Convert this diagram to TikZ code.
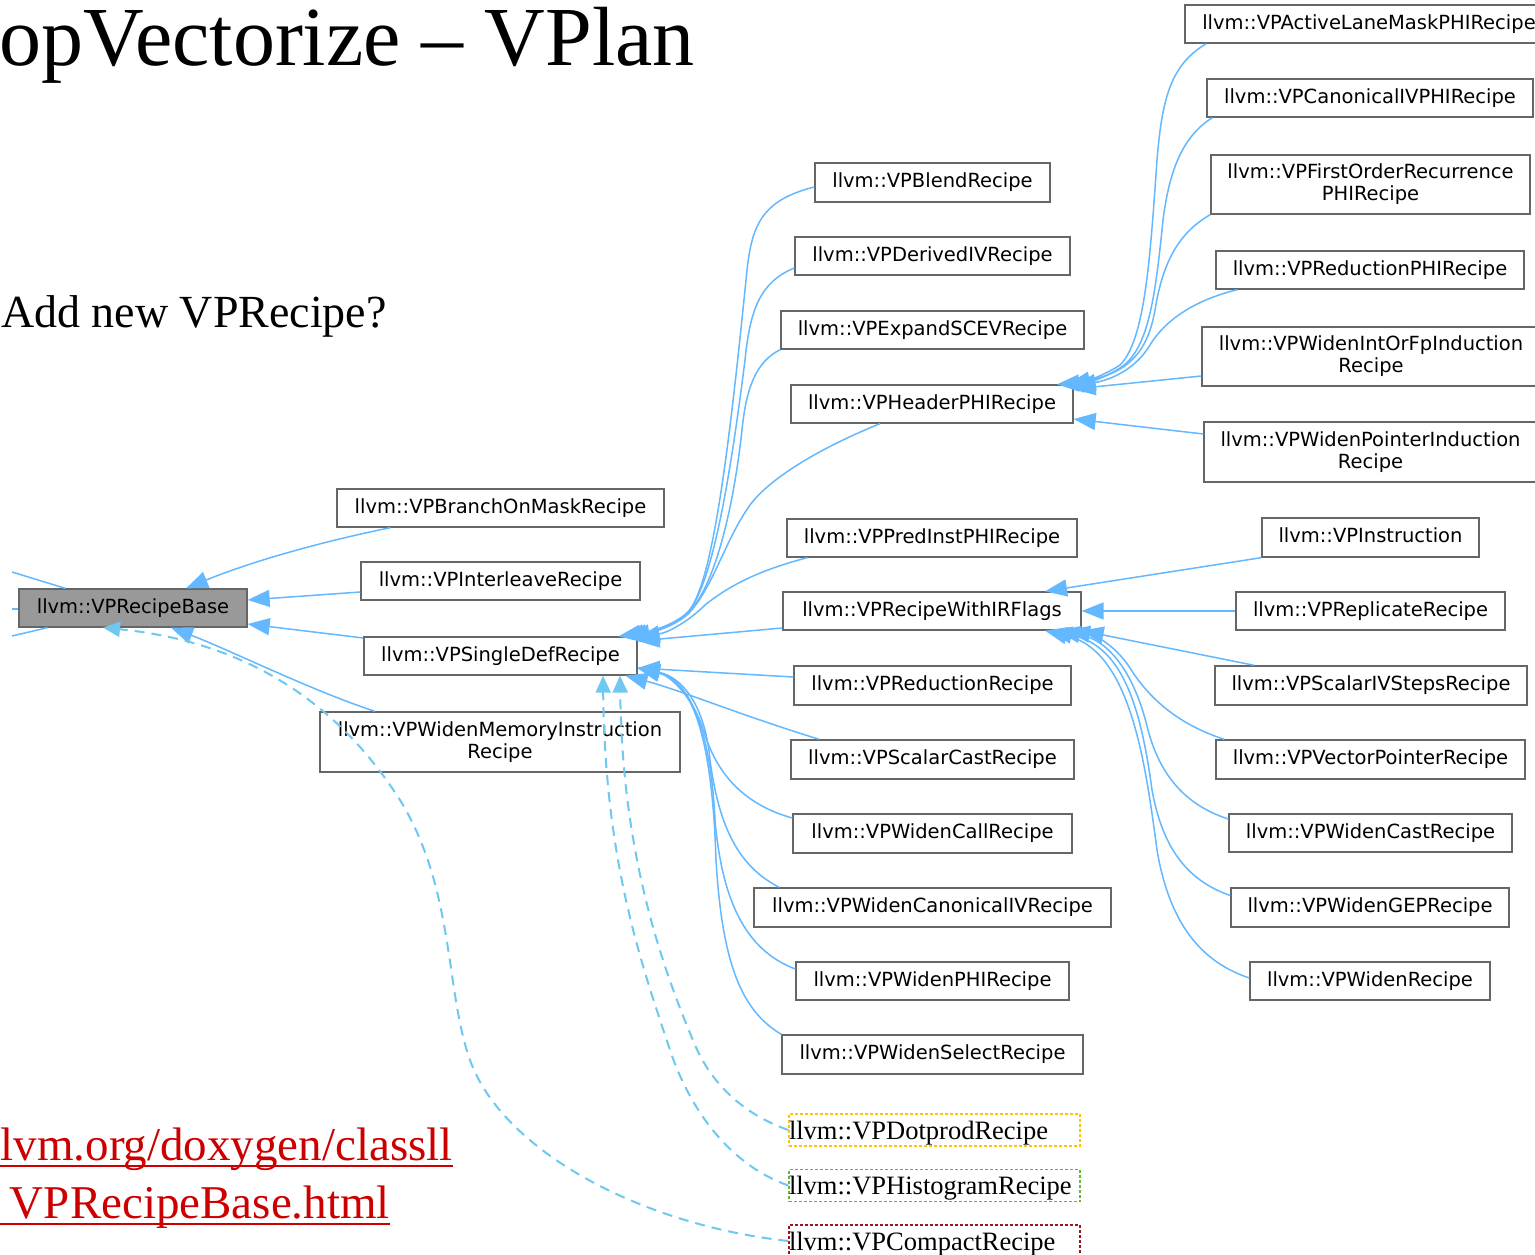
\documentclass[tikz,border=0pt]{standalone}
\usepackage{fontspec}
\setmainfont{Liberation Serif}
\newfontfamily\dvfont{DejaVu Sans}
\usetikzlibrary{arrows.meta}
\definecolor{edgeblue}{RGB}{99,184,255}
\definecolor{dashblue}{RGB}{110,200,240}
\definecolor{boxgray}{RGB}{102,102,102}
\definecolor{basegray}{RGB}{153,153,153}
\definecolor{linkred}{RGB}{204,0,0}
\definecolor{dotyellow}{RGB}{250,200,0}
\definecolor{histgreen}{RGB}{95,185,50}
\definecolor{compactred}{RGB}{160,20,20}
\tikzset{
  cls/.style={draw=boxgray, line width=1.3pt, fill=white, inner sep=0pt, align=center,
              font={\dvfont\fontsize{19.5}{22}\selectfont}},
  oneline/.style={text height=14.8pt, text depth=4.6pt},
  sz/.style 2 args={minimum width=#1pt, minimum height=#2pt},
  dbox/.style={line width=1.3pt, dash pattern=on 3pt off 2pt, fill=white, inner sep=0pt,
               text width=291pt, align=left, minimum height=32pt, text height=25pt, text depth=7pt,
               font={\fontsize{26.5}{30}\selectfont}},
  inh/.style={draw=edgeblue, line width=1.5pt, -{Triangle[length=22pt,width=17pt]}},
  tmpl/.style={draw=dashblue, line width=2pt, dash pattern=on 10pt off 7pt,
               -{Triangle[length=17pt,width=15pt]}},
  stub/.style={draw=edgeblue, line width=1.5pt},
  ul/.style={draw=linkred, line width=2.4pt}
}
\begin{document}
\begin{tikzpicture}[x=1pt,y=-1pt]
\useasboundingbox (0,0) rectangle (1535,1255);
\fill[white] (0,0) rectangle (1535,1255);
\clip (0,0) rectangle (1535,1255);

% slide texts
\node[anchor=base east, inner sep=0pt, font={\fontsize{84}{90}\selectfont}] (title) at (695,66) {opVectorize -- VPlan};
\node[anchor=base east, inner sep=0pt, font={\fontsize{46}{52}\selectfont}] (question) at (387,327) {Add new VPRecipe?};
\node[anchor=base east, inner sep=0pt, text=linkred, font={\fontsize{47}{52}\selectfont}] (urlA) at (453,1160) {lvm.org/doxygen/classll};
\node[anchor=base east, inner sep=0pt, text=linkred, font={\fontsize{47}{52}\selectfont}] (urlB) at (390,1218) {VPRecipeBase.html};
\draw[ul] ([yshift=-6pt]urlA.base east) -- ++(-470,0);
\draw[ul] ([yshift=-6pt]urlB.base east) -- ++(-410,0);

% base class
\node[cls, oneline, sz={228}{38}, fill=basegray] (base) at (133,608) {llvm::VPRecipeBase};

% direct subclasses
\node[cls, oneline, sz={327}{38}] (branch) at (500.5,508) {llvm::VPBranchOnMaskRecipe};
\node[cls, oneline, sz={279}{38}] (interleave) at (500.5,581) {llvm::VPInterleaveRecipe};
\node[cls, oneline, sz={273}{38}] (single) at (500.5,656) {llvm::VPSingleDefRecipe};
\node[cls, sz={360}{60}] (widenmem) at (500,742) {llvm::VPWidenMemoryInstruction\\Recipe};

% subclasses of VPSingleDefRecipe
\node[cls, oneline, sz={235}{39}] (blend) at (932.5,182.5) {llvm::VPBlendRecipe};
\node[cls, oneline, sz={275}{38}] (derived) at (932.5,256) {llvm::VPDerivedIVRecipe};
\node[cls, oneline, sz={303}{38}] (expand) at (932.5,330) {llvm::VPExpandSCEVRecipe};
\node[cls, oneline, sz={282}{38}] (header) at (932,404) {llvm::VPHeaderPHIRecipe};
\node[cls, oneline, sz={290}{38}] (predinst) at (932,538) {llvm::VPPredInstPHIRecipe};
\node[cls, oneline, sz={298}{38}] (irflags) at (932,611) {llvm::VPRecipeWithIRFlags};
\node[cls, oneline, sz={277}{39}] (reduction) at (932.5,685.5) {llvm::VPReductionRecipe};
\node[cls, oneline, sz={283}{39}] (scalarcast) at (932.5,759.5) {llvm::VPScalarCastRecipe};
\node[cls, oneline, sz={279}{39}] (widencall) at (932.5,833.5) {llvm::VPWidenCallRecipe};
\node[cls, oneline, sz={357}{39}] (canonicaliv) at (932.5,907.5) {llvm::VPWidenCanonicalIVRecipe};
\node[cls, oneline, sz={273}{38}] (widenphi) at (932.5,981) {llvm::VPWidenPHIRecipe};
\node[cls, oneline, sz={301}{39}] (widenselect) at (932.5,1054.5) {llvm::VPWidenSelectRecipe};

% recipes still to be placed in the hierarchy
\node[dbox, draw=dotyellow] (dotprod) at (934.5,1130) {llvm::VPDotprodRecipe};
\node[dbox, draw=histgreen] (histogram) at (934.5,1185.5) {llvm::VPHistogramRecipe};
\node[dbox, draw=compactred] (compact) at (934.5,1241) {llvm::VPCompactRecipe};

% subclasses of VPHeaderPHIRecipe
\node[cls, oneline, sz={368}{38}] (activelane) at (1369,24) {llvm::VPActiveLaneMaskPHIRecipe};
\node[cls, oneline, sz={326}{38}] (canonicalphi) at (1370,98) {llvm::VPCanonicalIVPHIRecipe};
\node[cls, sz={319}{59}] (firstorder) at (1370.5,184.5) {llvm::VPFirstOrderRecurrence\\PHIRecipe};
\node[cls, oneline, sz={308}{38}] (reductionphi) at (1370,270) {llvm::VPReductionPHIRecipe};
\node[cls, sz={338}{59}] (widenint) at (1371,356.5) {llvm::VPWidenIntOrFpInduction\\Recipe};
\node[cls, sz={333}{60}] (widenptr) at (1370.5,452) {llvm::VPWidenPointerInduction\\Recipe};

% subclasses of VPRecipeWithIRFlags
\node[cls, oneline, sz={217}{39}] (instruction) at (1370.5,537.5) {llvm::VPInstruction};
\node[cls, oneline, sz={269}{38}] (replicate) at (1370.5,611) {llvm::VPReplicateRecipe};
\node[cls, oneline, sz={312}{39}] (scalarivsteps) at (1371,685.5) {llvm::VPScalarIVStepsRecipe};
\node[cls, oneline, sz={309}{39}] (vectorptr) at (1370.5,759.5) {llvm::VPVectorPointerRecipe};
\node[cls, oneline, sz={283}{38}] (widencast) at (1370.5,833) {llvm::VPWidenCastRecipe};
\node[cls, oneline, sz={278}{39}] (widengep) at (1370,907.5) {llvm::VPWidenGEPRecipe};
\node[cls, oneline, sz={240}{38}] (widen) at (1370,981) {llvm::VPWidenRecipe};

% edges of VPRecipeBase towards its own bases
\coordinate (s1) at (12,572);
\coordinate (s2) at (12,609);
\coordinate (s3) at (12,636);
\draw[stub] (s1) -- ([xshift=47pt]base.north west);
\draw[stub] (s2) -- ([yshift=-1pt]base.west);
\draw[stub] (s3) -- ([xshift=29pt]base.south west);

% inheritance into VPRecipeBase
\draw[inh] ([xshift=-110pt]branch.south) .. controls (320,542) and (250,562) .. ([xshift=53pt]base.north);
\draw[inh] ([yshift=-11pt]interleave.west) -- ([yshift=8pt]base.east);
\draw[inh] ([yshift=18pt]single.west) -- ([yshift=-16pt]base.east);
\draw[inh] ([xshift=-125pt]widenmem.north) .. controls (310,690) and (230,650) .. ([xshift=38pt]base.south);

% inheritance into VPSingleDefRecipe
\draw[inh] ([yshift=-4.5pt]blend.west) .. controls (762,200) and (752,225) .. (747,270)
  .. controls (728,460) and (712,585) .. (688,612) .. controls (675,625) and (650,632) .. ([xshift=118pt]single.north);
\draw[inh] ([yshift=-12pt]derived.west) .. controls (760,282) and (750,310) .. (745,360)
  .. controls (730,480) and (712,585) .. (688,612) .. controls (675,625) and (650,632) .. ([xshift=121pt]single.north);
\draw[inh] (expand.south west) .. controls (755,362) and (746,390) .. (742,430)
  .. controls (732,520) and (712,590) .. (688,613) .. controls (675,625) and (652,632) .. ([xshift=124pt]single.north);
\draw[inh] ([xshift=-52pt]header.south) .. controls (820,448) and (770,478) .. (750,505)
  .. controls (725,540) and (712,590) .. (688,614) .. controls (676,625) and (655,632) .. ([xshift=127pt]single.north);
\draw[inh] ([xshift=21pt]predinst.south west) .. controls (760,570) and (730,585) .. (705,605)
  .. controls (690,620) and (670,632) .. ([yshift=18pt]single.east);
\draw[inh] ([yshift=-17pt]irflags.west) -- ([yshift=15pt]single.east);
\draw[inh] ([yshift=8.5pt]reduction.west) -- ([yshift=-12pt]single.east);
\draw[inh] ([xshift=29pt]scalarcast.north west) .. controls (740,715) and (680,690) .. ([xshift=125pt]single.south);
\draw[inh] ([yshift=15.5pt]widencall.west) .. controls (745,805) and (718,775) .. (705,735)
  .. controls (695,700) and (672,676) .. ([yshift=-12pt]single.east);
\draw[inh] ([xshift=26pt]canonicaliv.north west) .. controls (735,865) and (718,820) .. (710,760)
  .. controls (705,705) and (682,677) .. ([yshift=-12pt]single.east);
\draw[inh] ([yshift=12pt]widenphi.west) .. controls (745,950) and (722,900) .. (715,820)
  .. controls (710,720) and (686,679) .. ([yshift=-12pt]single.east);
\draw[inh] (widenselect.north west) .. controls (740,1010) and (722,960) .. (716,860)
  .. controls (712,730) and (690,680) .. ([yshift=-12pt]single.east);

% inheritance into VPHeaderPHIRecipe
\draw[inh] ([xshift=22pt]activelane.south west) .. controls (1170,65) and (1162,100) .. (1157,160)
  .. controls (1150,260) and (1145,340) .. (1120,365) .. controls (1100,378) and (1080,383) .. ([xshift=125pt]header.north);
\draw[inh] ([xshift=6pt]canonicalphi.south west) .. controls (1185,135) and (1170,165) .. (1163,220)
  .. controls (1155,300) and (1148,350) .. (1120,368) .. controls (1100,380) and (1085,384) .. ([xshift=130pt]header.north);
\draw[inh] (firstorder.south west) .. controls (1180,232) and (1163,260) .. (1155,310)
  .. controls (1148,350) and (1130,372) .. ([xshift=136pt]header.north);
\draw[inh] ([xshift=22pt]reductionphi.south west) .. controls (1195,300) and (1165,320) .. (1150,345)
  .. controls (1135,370) and (1110,380) .. ([yshift=18pt]header.east);
\draw[inh] ([yshift=-19.5pt]widenint.west) -- ([yshift=15pt]header.east);
\draw[inh] ([yshift=18pt]widenptr.west) -- ([yshift=-15pt]header.east);

% inheritance into VPRecipeWithIRFlags
\draw[inh] (instruction.south west) -- ([xshift=113pt]irflags.north);
\draw[inh] (replicate.west) -- (irflags.east);
\draw[inh] ([xshift=40pt]scalarivsteps.north west) -- (irflags.south east);
\draw[inh] ([xshift=9pt]vectorptr.north west) .. controls (1180,725) and (1150,700) .. (1130,668)
  .. controls (1115,645) and (1095,635) .. ([xshift=136pt]irflags.south);
\draw[inh] ([yshift=14pt]widencast.west) .. controls (1185,805) and (1160,775) .. (1148,730)
  .. controls (1135,675) and (1110,640) .. ([xshift=126pt]irflags.south);
\draw[inh] ([yshift=12pt]widengep.west) .. controls (1185,880) and (1162,845) .. (1152,790)
  .. controls (1140,700) and (1120,645) .. ([xshift=118pt]irflags.south);
\draw[inh] ([yshift=3pt]widen.west) .. controls (1195,960) and (1168,915) .. (1157,850)
  .. controls (1145,760) and (1130,650) .. ([xshift=113pt]irflags.south);

% proposed links for the new recipes
\draw[tmpl] (dotprod.west) .. controls (745,1115) and (712,1085) .. (695,1045)
  .. controls (650,940) and (622,830) .. ([xshift=119.5pt]single.south);
\draw[tmpl] (histogram.west) .. controls (730,1165) and (690,1110) .. (670,1050)
  .. controls (640,960) and (605,860) .. ([xshift=102.5pt]single.south);
\draw[tmpl] (compact.west) .. controls (640,1225) and (502,1150) .. (470,1060)
  .. controls (445,990) and (455,890) .. (400,800) .. controls (330,690) and (230,640) .. ([xshift=-30pt]base.south);
\end{tikzpicture}
\end{document}
